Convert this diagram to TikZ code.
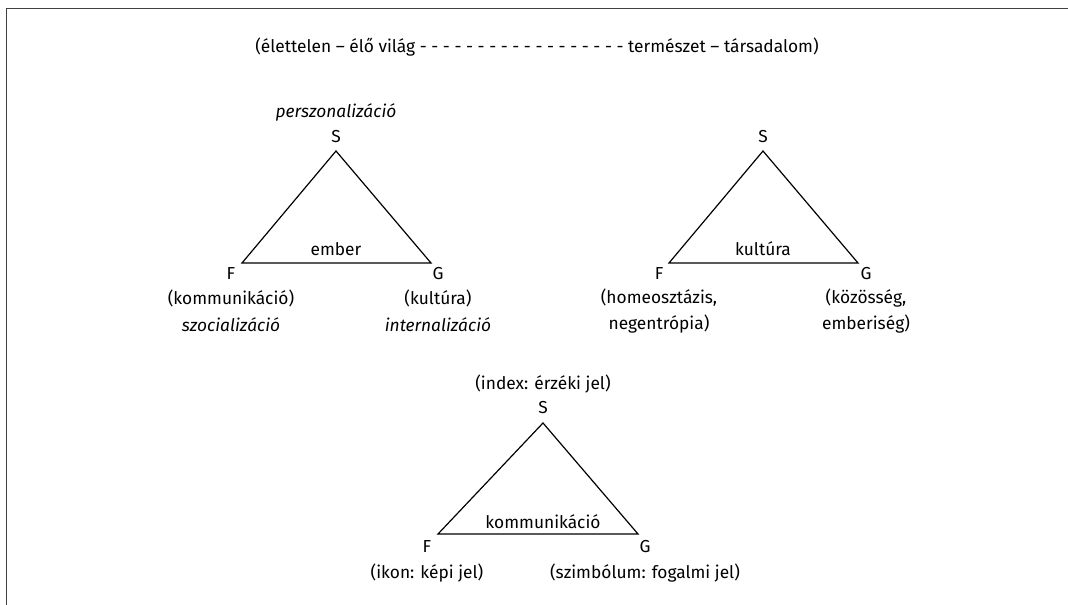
\documentclass[tikz,border=0pt]{standalone}
\usepackage{fontspec}
\setmainfont{Fira Sans}

\begin{document}
\begin{tikzpicture}[x=0.75pt, y=-0.75pt, line width=0.9pt,
    every node/.style={font=\fontsize{13}{20}\selectfont, inner sep=0pt, align=center},
    frameline/.style={draw=black!75, line width=0.7pt}]
    \useasboundingbox (0,0) rectangle (1068,605);

    % frame
    \coordinate (frTR) at (1068,8);
    \coordinate (frTL) at (6,8);
    \coordinate (frBL) at (6,605);
    \draw[frameline] (frTR) -- (frTL) -- (frBL);

    \node (scale) at (537,47) {(élettelen – élő világ - - - - - - - - - - - - - - - - - - természet – társadalom)};

    % ember
    \coordinate (s1) at (336,151);
    \coordinate (f1) at (242,263);
    \coordinate (g1) at (431,263);
    \draw (s1) -- (g1) -- (f1) -- cycle;
    \node (s1lab) at (336,137) {S};
    \node (s1txt) at (336,112) {\itshape perszonalizáció};
    \node (f1lab) at (231,274) {F};
    \node (g1lab) at (438,274) {G};
    \node (ember) at (336,249) {ember};
    \node (f1txt) at (231,311) {(kommunikáció)\\ \itshape szocializáció};
    \node (g1txt) at (438,311) {(kultúra)\\ \itshape internalizáció};

    % kultura
    \coordinate (s2) at (763,151);
    \coordinate (f2) at (669,263);
    \coordinate (g2) at (858,263);
    \draw (s2) -- (g2) -- (f2) -- cycle;
    \node (s2lab) at (763,137) {S};
    \node (f2lab) at (659,274) {F};
    \node (g2lab) at (866,274) {G};
    \node (kultura) at (763,249) {kultúra};
    \node (f2txt) at (659,311) {(homeosztázis,\\ negentrópia)};
    \node (g2txt) at (866,311) {(közösség,\\ emberiség)};

    % kommunikacio
    \coordinate (s3) at (543,423);
    \coordinate (f3) at (438,534);
    \coordinate (g3) at (638,534);
    \draw (s3) -- (g3) -- (f3) -- cycle;
    \node (s3lab) at (543,408) {S};
    \node (s3txt) at (543,384) {(index: érzéki jel)};
    \node (f3lab) at (427,547) {F};
    \node (g3lab) at (645,547) {G};
    \node (komm) at (543,522) {kommunikáció};
    \node (f3txt) at (427,573) {(ikon: képi jel)};
    \node (g3txt) at (645,573) {(szimbólum: fogalmi jel)};
\end{tikzpicture}
\end{document}
